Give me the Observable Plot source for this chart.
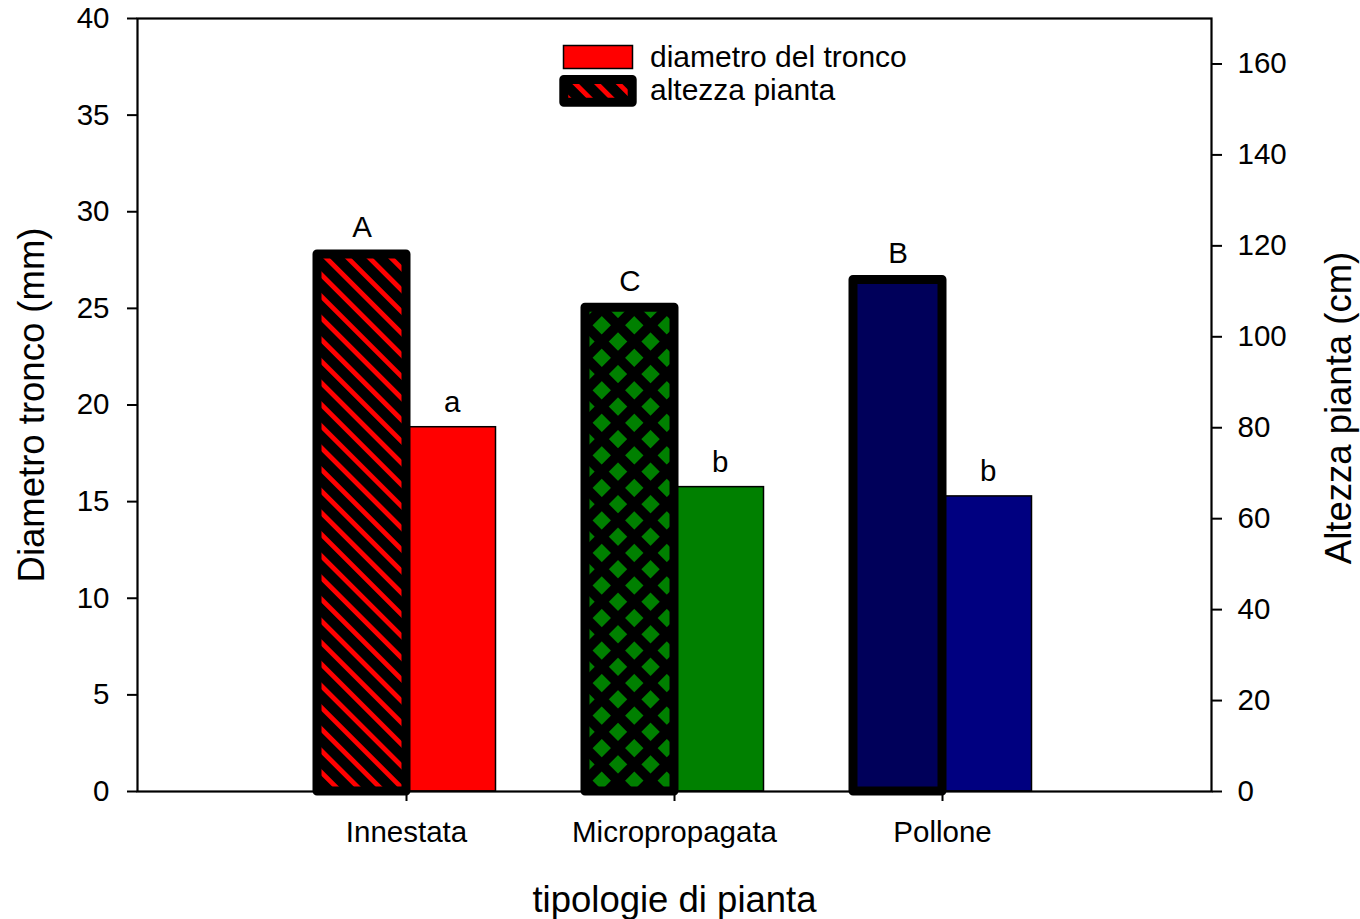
<!DOCTYPE html>
<html>
<head>
<meta charset="utf-8">
<script src="https://cdn.jsdelivr.net/npm/d3@7"></script>
<script src="https://cdn.jsdelivr.net/npm/@observablehq/plot@0.6"></script>
<style>
  html, body { margin: 0; padding: 0; background: white; }
  #wrap { position: relative; width: 1360px; height: 919px; }
  #legend { position: absolute; left: 540px; top: 30px; }
  #defs { position: absolute; width: 0; height: 0; }
</style>
</head>
<body>
<svg id="defs" width="0" height="0">
  <defs>
    <pattern id="stripes" patternUnits="userSpaceOnUse" width="15.3" height="15.3" patternTransform="rotate(-45)">
      <rect width="15.3" height="15.3" fill="black"></rect>
      <rect width="4.8" height="15.3" fill="#ff0000"></rect>
    </pattern>
    <pattern id="lattice" patternUnits="userSpaceOnUse" width="23" height="23" patternTransform="rotate(45)">
      <rect width="23" height="23" fill="black"></rect>
      <rect x="5" y="5" width="13" height="13" fill="#008000"></rect>
    </pattern>
  </defs>
</svg>
<div id="wrap"></div>
<script>
// ---- data ----
const categories = ["Innestata", "Micropropagata", "Pollone"];
const diametro = [18.85, 15.75, 15.27];          // mm (left axis)
const altezza = [118.1, 106.4, 112.5];           // cm (right axis)
const lettersDiametro = ["a", "b", "b"];
const lettersAltezza = ["A", "C", "B"];
const leftTicks = [0, 5, 10, 15, 20, 25, 30, 35, 40];
const rightTicks = [0, 20, 40, 60, 80, 100, 120, 140, 160];
const leftDomain = [0, 40];
const rightDomain = [0, 170];

// ---- styles ----
const diametroFills = ["#ff0000", "#008000", "#000080"];
const altezzaFills = ["url(#stripes)", "url(#lattice)", "#00005a"];

const k = leftDomain[1] / rightDomain[1]; // map right-axis units to left-axis units

const diamRows = categories.map((c, i) => ({cat: c, v: diametro[i], letter: lettersDiametro[i], fill: diametroFills[i]}));
const altRows = categories.map((c, i) => ({cat: c, v: altezza[i] * k, letter: lettersAltezza[i], fill: altezzaFills[i]}));

const font = "'Liberation Sans', Arial, Helvetica, sans-serif";
const tickFont = 29.5;

const chart = Plot.plot({
  width: 1360,
  height: 919,
  marginLeft: 137,
  marginRight: 149,
  marginTop: 18,
  marginBottom: 128,
  style: {fontFamily: font, fontSize: tickFont + "px", color: "black", background: "white", overflow: "visible"},
  x: {type: "band", domain: categories, paddingInner: 0.322, paddingOuter: 0.661, align: 0.5, label: null},
  y: {domain: leftDomain, label: null},
  color: {type: "identity"},
  marks: [
    Plot.barY(diamRows, {x: "cat", y: "v", fill: "fill", stroke: "black", strokeWidth: 1.5, insetLeft: 93, insetRight: 1.5}),
    Plot.barY(altRows, {x: "cat", y: "v", fill: "fill", stroke: "black", strokeWidth: 9, strokeLinejoin: "round", insetLeft: 2, insetRight: 91}),
    Plot.frame({stroke: "black", strokeWidth: 2.2}),
    Plot.axisY({anchor: "left", ticks: leftTicks, tickSize: 10, tickPadding: 18, strokeWidth: 2, label: null, fontSize: tickFont}),
    Plot.axisY({anchor: "right", ticks: rightTicks.map(t => t * k), tickFormat: d => String(Math.round(d / k)), tickSize: 10, tickPadding: 16, strokeWidth: 2, label: null, fontSize: tickFont}),
    Plot.axisX({anchor: "bottom", tickSize: 10, tickPadding: 20, strokeWidth: 2, label: null, fontSize: tickFont}),
    Plot.text(altRows, {x: "cat", y: "v", text: "letter", dx: -44.5, dy: -17, lineAnchor: "bottom", fontSize: tickFont, fill: "black"}),
    Plot.text(diamRows, {x: "cat", y: "v", text: "letter", dx: 45.75, dy: -15, lineAnchor: "bottom", fontSize: tickFont, fill: "black"}),
    Plot.text(["Diametro tronco (mm)"], {text: d => d, frameAnchor: "left", dx: -105.5, rotate: -90, textAnchor: "middle", lineAnchor: "middle", fontSize: 36.5, fill: "black"}),
    Plot.text(["Altezza pianta (cm)"], {text: d => d, frameAnchor: "right", dx: 127.5, dy: 3, rotate: -90, textAnchor: "middle", lineAnchor: "middle", fontSize: 36.5, fill: "black"}),
    Plot.text(["tipologie di pianta"], {text: d => d, frameAnchor: "bottom", dy: 109, textAnchor: "middle", lineAnchor: "middle", fontSize: 36.5, fill: "black"})
  ]
});

const wrap = document.getElementById("wrap");
wrap.appendChild(chart);

// legend (overlay inside plot area)
const legend = d3.create("svg").attr("id", "legend").attr("width", 420).attr("height", 90)
  .style("font-family", font);
legend.append("rect").attr("x", 23.5).attr("y", 15.5).attr("width", 69).attr("height", 23)
  .attr("fill", diametroFills[0]).attr("stroke", "black").attr("stroke-width", 1.5);
legend.append("rect").attr("x", 23.8).attr("y", 49.5).attr("width", 68.4).attr("height", 22.7)
  .attr("fill", altezzaFills[0]).attr("stroke", "black").attr("stroke-width", 9).attr("stroke-linejoin", "round");
legend.append("text").attr("x", 110).attr("y", 36.7).attr("font-size", 30).attr("fill", "black").text("diametro del tronco");
legend.append("text").attr("x", 110).attr("y", 70).attr("font-size", 30).attr("fill", "black").text("altezza pianta");
wrap.appendChild(legend.node());
</script>
</body>
</html>
